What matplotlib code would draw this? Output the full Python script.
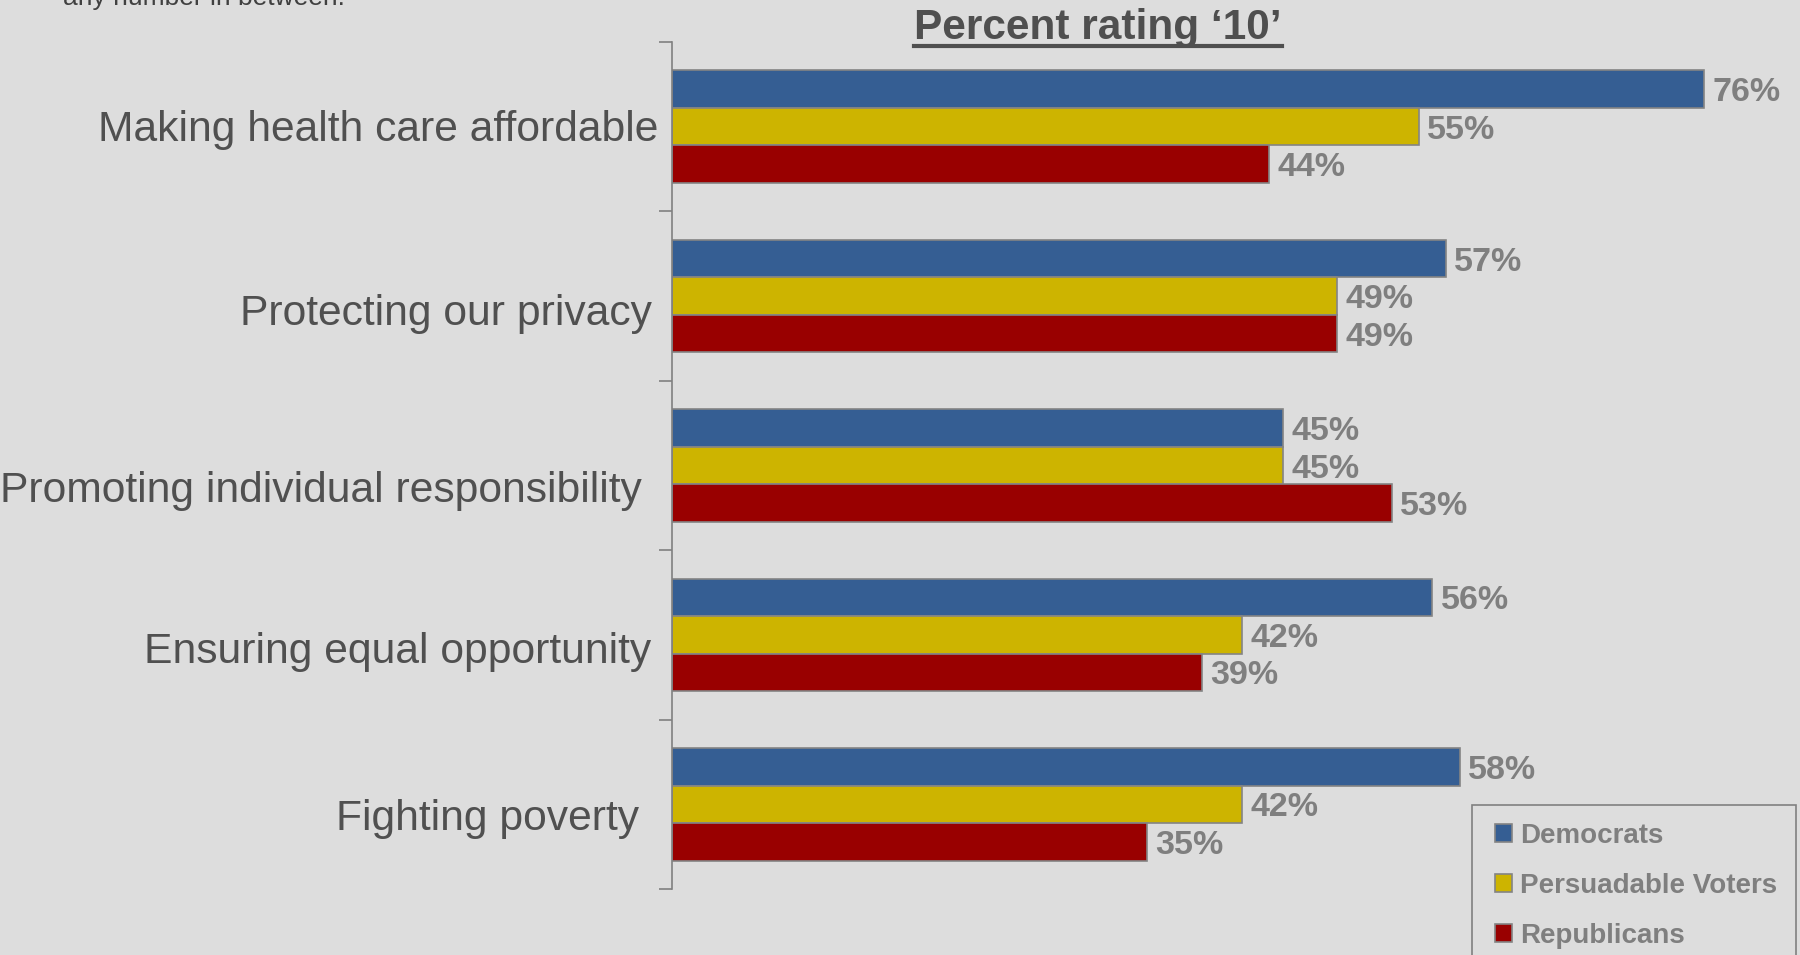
import matplotlib
matplotlib.use("Agg")
import matplotlib.pyplot as plt
import matplotlib.transforms as mtransforms
from matplotlib.lines import Line2D
from matplotlib.patches import Rectangle
import numpy as np

plt.rcParams['font.family'] = ['Liberation Sans', 'DejaVu Sans']

# ---------------- data ----------------
categories = ["Making health care affordable",
              "Protecting our privacy",
              "Promoting individual responsibility",
              "Ensuring equal opportunity",
              "Fighting poverty"]
series_names = ["Democrats", "Persuadable Voters", "Republicans"]
democrats = [76, 57, 45, 56, 58]
persuadable = [55, 49, 45, 42, 42]
republicans = [44, 49, 53, 39, 35]
title_text = "Percent rating \u201810\u2019"
note_text = "any number in between."

# ---------------- style ----------------
BG = "#dddddd"
colors = ["#355e93", "#cdb400", "#990000"]
EDGE = "#848484"
W, H = 1800, 955
# per-label pixel offsets (dx from axis, dy of baseline relative to category centre)
label_dx = [-14, -20, -30, -21, -33]
label_dy = [-14, -29, -36, -28, -26]

fig = plt.figure(figsize=(W / 100, H / 100), dpi=100, facecolor=BG)
ax = fig.add_axes([672 / W, 1 - 889 / H, (W - 672) / W, (889 - 42) / H])
ax.set_facecolor(BG)

y = np.arange(len(categories))
h = 0.2217
values = [democrats, persuadable, republicans]
for i, (name, vals, col) in enumerate(zip(series_names, values, colors)):
    bars = ax.barh(y + (i - 1) * h, vals, height=h, color=col,
                   edgecolor=EDGE, linewidth=1.2, label=name)
    labs = ax.bar_label(bars, fmt="%g%%", padding=6, fontsize=24.5,
                        fontweight="bold", color="#7f7f7f")
    for t in labs:
        t.set_va("center_baseline")

ax.set_xlim(0, (W - 672) / 13.579)
ax.set_ylim(len(categories) - 0.5, -0.5)
ax.set_yticks(np.arange(-0.5, len(categories), 1.0))
ax.set_yticklabels([])
ax.set_xticks([])
ax.tick_params(axis="y", direction="out", length=9.5, width=1.2, color="#808080")
for s in ["top", "right", "bottom"]:
    ax.spines[s].set_visible(False)
ax.spines["left"].set_color("#808080")
ax.spines["left"].set_linewidth(1.2)

# category labels
for i, cat in enumerate(categories):
    tr = mtransforms.offset_copy(ax.get_yaxis_transform(), fig=fig,
                                 x=label_dx[i], y=label_dy[i], units="dots")
    ax.text(0, i, cat, transform=tr, ha="right", va="baseline",
            fontsize=30.7, color="#505050")

# title with underline
title = fig.text(1098 / W, 1 - 39 / H, title_text, ha="center", va="baseline",
                 fontsize=30.5, fontweight="bold", color="#4f4f4f")
fig.text(63 / W, 1 - 5 / H, note_text, ha="left", va="baseline",
         fontsize=19, color="#404040")

fig.canvas.draw()
bb = title.get_window_extent()
yl = 1 - 46 / H
fig.add_artist(Line2D([bb.x0 / W, bb.x1 / W], [yl, yl], transform=fig.transFigure,
                      color="#4f4f4f", linewidth=3))

# legend frame (runs off the bottom of the figure, as in the original)
fig.add_artist(Rectangle((1472 / W, -0.05), (1796 - 1472) / W, (1 - 805 / H) + 0.05,
                         transform=fig.transFigure, facecolor=BG,
                         edgecolor="#808080", linewidth=1.2, zorder=5))

handles, labels = ax.get_legend_handles_labels()
leg = fig.legend(handles, labels, loc="upper left",
                 bbox_to_anchor=(1495 / W, 1 - 823 / H),
                 bbox_transform=fig.transFigure, borderaxespad=0, borderpad=0,
                 frameon=False, handlelength=0.61, handleheight=0.61,
                 handletextpad=0.3, labelspacing=0.86,
                 prop={"weight": "bold", "size": 20})
leg.set_zorder(6)
for t in leg.get_texts():
    t.set_color("#7f7f7f")

fig.savefig("out.png", dpi=100, facecolor=BG)
